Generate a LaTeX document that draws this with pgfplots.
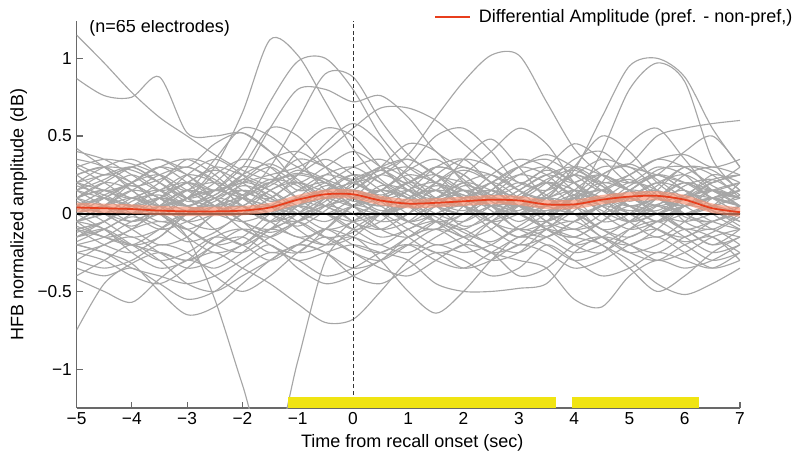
\documentclass[border=0pt]{standalone}
\usepackage{fontspec}
\setmainfont{Liberation Sans}
\usepackage{pgfplots}
\usepackage{pgfplotstable}
\pgfplotsset{compat=1.18}
\definecolor{grayline}{RGB}{166,166,166}
\definecolor{redline}{RGB}{232,62,28}
\definecolor{band}{RGB}{244,145,115}
\definecolor{ybar}{RGB}{240,228,18}
\definecolor{axgray}{RGB}{105,105,105}

\pgfplotstableread{
id c1 c2 c3 c4 c5 c6 c7 c8 c9 c10 c11 c12 c13 c14 c15 c16 c17 c18 c19 c20 c21 c22 c23 c24 c25
x -5 -4.5 -4 -3.5 -3 -2.5 -2 -1.5 -1 -0.5 0 0.5 1 1.5 2 2.5 3 3.5 4 4.5 5 5.5 6 6.5 7
g1 1.15 0.97 0.78 0.62 0.50 0.38 0.28 0.22 0.26 0.22 0.15 0.10 0.06 0.10 0.15 0.10 0.05 0.02 0.10 0.15 0.10 0.05 0.10 0.15 0.10
g2 0.87 0.76 0.75 0.88 0.52 0.50 0.52 0.40 0.30 0.20 0.10 0.05 0.10 0.18 0.12 0.05 0.00 0.05 0.12 0.08 0.02 0.06 0.12 0.10 0.05
g3 0.05 0.10 0.05 0.00 0.10 0.30 0.65 1.12 1.02 0.72 0.42 0.22 0.12 0.05 0.10 0.15 0.10 0.05 0.00 0.05 0.10 0.05 0.00 0.05 0.10
g4 0.10 0.05 0.00 0.05 0.10 0.20 0.38 0.72 0.98 1.00 0.80 0.50 0.30 0.20 0.15 0.05 0.00 0.05 0.10 0.05 -0.05 0.00 0.05 0.10 0.05
g5 -0.05 0.00 0.10 0.15 0.05 0.00 0.10 0.30 0.60 0.90 0.88 0.60 0.38 0.25 0.20 0.10 0.05 0.10 0.15 0.10 0.05 0.10 0.15 0.05 0.00
g6 0.15 0.10 0.05 0.10 0.20 0.15 0.25 0.55 0.80 0.80 0.72 0.76 0.62 0.40 0.30 0.25 0.15 0.10 0.20 0.25 0.15 0.10 0.05 0.10 0.15
g7 0.00 0.05 0.10 0.05 0.00 0.05 0.10 0.05 0.10 0.15 0.20 0.25 0.38 0.62 0.85 1.02 1.02 0.72 0.42 0.25 0.15 0.10 0.05 0.10 0.05
g8 0.10 0.15 0.10 0.05 0.10 0.15 0.10 0.00 0.05 0.10 0.05 0.10 0.15 0.10 0.05 0.00 0.05 0.12 0.28 0.62 0.95 1.00 0.88 0.55 0.30
g9 -0.05 0.00 0.05 0.10 0.05 0.00 -0.05 0.00 0.05 0.00 -0.05 0.00 0.05 0.10 0.15 0.10 0.05 0.05 0.10 0.40 0.80 0.97 0.85 0.35 0.15
g10 0.20 0.25 0.30 0.20 0.10 0.15 0.20 0.25 0.30 0.40 0.55 0.68 0.68 0.60 0.45 0.30 0.20 0.15 0.25 0.35 0.30 0.25 0.20 0.15 0.20
g11 0.05 0.00 -0.05 0.00 0.10 0.15 0.10 0.05 0.00 0.05 0.10 0.15 0.10 0.05 0.00 0.05 0.15 0.25 0.20 0.30 0.32 0.50 0.55 0.58 0.60
g12 0.30 0.35 0.32 0.25 0.15 0.35 0.55 0.50 0.35 0.15 0.05 0.00 0.05 0.10 0.20 0.15 0.05 0.00 0.10 0.20 0.15 0.10 0.05 0.10 0.05
g13 0.10 0.20 0.30 0.35 0.30 0.45 0.52 0.40 0.20 0.10 0.15 0.30 0.45 0.40 0.20 0.05 0.00 0.10 0.25 0.15 0.05 0.10 0.20 0.15 0.10
g14 0.40 0.35 0.25 0.15 0.20 0.30 0.25 0.20 0.40 0.55 0.50 0.30 0.15 0.10 0.25 0.40 0.55 0.45 0.20 0.05 0.00 0.10 0.25 0.30 0.25
g15 0.20 0.15 0.10 0.20 0.35 0.30 0.15 0.10 0.25 0.45 0.58 0.45 0.20 0.15 0.35 0.48 0.30 0.10 0.05 0.20 0.45 0.55 0.35 0.15 0.10
g16 -0.05 0.05 0.20 0.30 0.25 0.10 0.05 0.20 0.35 0.30 0.20 0.15 0.30 0.50 0.55 0.40 0.20 0.30 0.45 0.35 0.20 0.25 0.40 0.50 0.30
g17 0.25 0.30 0.20 0.10 0.05 0.15 0.30 0.55 0.50 0.30 0.10 0.05 0.10 0.25 0.35 0.30 0.15 0.10 0.30 0.50 0.40 0.20 0.10 0.20 0.25
g18 0.10 0.15 0.05 -0.05 0.00 0.10 0.05 -0.05 0.00 0.10 0.15 0.05 -0.05 0.00 0.10 0.15 0.05 0.00 0.05 0.10 0.05 -0.05 0.00 0.05 0.00
g19 -0.10 -0.05 0.05 0.15 0.20 0.10 0.00 0.05 0.15 0.20 0.10 0.00 0.05 0.15 0.10 -0.05 -0.10 0.00 0.10 0.05 -0.05 0.00 0.10 0.15 0.05
g20 0.20 0.10 0.00 -0.10 -0.05 0.05 0.15 0.10 0.00 -0.10 -0.05 0.10 0.20 0.15 0.05 0.00 0.10 0.20 0.15 0.00 -0.10 -0.05 0.05 0.10 0.15
g21 0.00 0.10 0.20 0.25 0.15 0.05 0.00 0.10 0.20 0.15 0.25 0.20 0.05 -0.05 0.00 0.15 0.25 0.20 0.05 0.00 0.10 0.20 0.25 0.15 0.05
g22 -0.20 -0.15 -0.05 0.00 -0.10 -0.20 -0.15 0.00 0.10 0.05 -0.05 -0.15 -0.10 0.00 0.05 -0.05 -0.15 -0.10 0.05 0.10 0.00 -0.10 -0.15 -0.05 0.00
g23 0.15 0.25 0.20 0.05 -0.05 0.00 0.10 0.20 0.25 0.20 0.10 0.15 0.25 0.20 0.10 0.20 0.30 0.25 0.10 0.05 0.15 0.25 0.15 0.05 -0.05
g24 0.05 -0.05 -0.15 -0.10 0.00 0.10 0.20 0.15 0.05 0.00 0.10 0.25 0.30 0.20 0.05 -0.05 0.00 0.10 0.05 -0.10 -0.05 0.10 0.20 0.10 0.00
g25 -0.15 -0.05 0.05 0.00 -0.15 -0.25 -0.20 -0.05 0.05 0.00 -0.10 -0.05 0.10 0.15 0.05 -0.10 -0.20 -0.15 -0.05 0.05 0.10 0.00 -0.10 -0.20 -0.10
g26 0.30 0.20 0.10 0.15 0.25 0.20 0.05 0.00 0.10 0.25 0.30 0.20 0.10 0.00 -0.05 0.05 0.15 0.25 0.30 0.20 0.05 0.00 0.10 0.20 0.25
g27 -0.05 0.05 0.15 0.10 -0.05 -0.10 0.00 0.15 0.20 0.10 -0.05 -0.10 0.00 0.10 0.20 0.25 0.15 0.00 -0.10 -0.05 0.10 0.20 0.15 0.00 -0.10
g28 0.10 0.00 -0.10 -0.20 -0.15 0.00 0.05 -0.05 -0.15 -0.10 0.05 0.15 0.10 -0.05 -0.15 -0.10 0.05 0.10 0.00 -0.15 -0.20 -0.10 0.05 0.10 0.05
g29 0.25 0.15 0.20 0.30 0.20 0.05 0.10 0.20 0.10 0.05 0.15 0.25 0.20 0.30 0.25 0.10 0.05 0.15 0.30 0.25 0.20 0.30 0.25 0.10 0.15
g30 -0.25 -0.20 -0.10 -0.05 -0.10 -0.20 -0.25 -0.15 -0.05 0.00 -0.10 -0.20 -0.25 -0.15 -0.05 0.05 0.00 -0.10 -0.20 -0.15 -0.05 0.05 0.00 -0.10 -0.15
g31 0.05 0.15 0.25 0.15 0.05 0.15 0.30 0.25 0.10 0.00 0.05 0.10 -0.05 -0.10 0.05 0.20 0.10 -0.05 -0.10 0.00 0.15 0.10 0.00 0.05 0.20
g32 0.35 0.30 0.15 0.05 0.10 0.25 0.35 0.30 0.15 0.20 0.30 0.35 0.25 0.10 0.05 0.15 0.30 0.35 0.25 0.15 0.25 0.35 0.30 0.20 0.30
g33 -0.10 -0.20 -0.25 -0.15 0.00 0.05 -0.05 -0.20 -0.25 -0.10 0.05 0.00 -0.15 -0.25 -0.20 -0.05 0.05 -0.05 -0.20 -0.25 -0.10 0.00 -0.10 -0.20 -0.15
g34 0.00 0.05 0.00 0.10 0.25 0.35 0.25 0.10 0.05 0.15 0.05 -0.05 0.00 0.20 0.30 0.20 0.00 -0.05 0.05 0.25 0.30 0.15 -0.05 -0.10 0.00
g35 0.15 0.05 -0.05 0.05 0.15 0.10 -0.05 -0.10 0.00 0.15 0.25 0.15 0.00 0.05 0.15 0.05 -0.10 -0.05 0.15 0.25 0.15 0.00 0.10 0.25 0.20
g36 -0.10 -0.05 0.05 0.00 -0.15 -0.55 -1.10 -1.62 -0.95 -0.30 -0.10 0.00 0.05 -0.05 -0.10 0.00 0.05 0.00 -0.05 0.05 0.10 0.00 -0.05 0.00 0.05
g37 -0.75 -0.45 -0.32 -0.25 -0.30 -0.20 -0.10 -0.15 -0.25 -0.20 -0.05 0.00 -0.10 -0.20 -0.15 -0.05 0.00 -0.10 -0.15 -0.05 0.05 0.00 -0.10 -0.05 0.00
g38 -0.42 -0.50 -0.57 -0.42 -0.30 -0.35 -0.25 -0.10 -0.05 -0.15 -0.25 -0.30 -0.20 -0.10 -0.15 -0.25 -0.20 -0.05 0.00 -0.10 -0.20 -0.25 -0.15 -0.10 -0.20
g39 -0.20 -0.25 -0.32 -0.50 -0.65 -0.60 -0.45 -0.30 -0.20 -0.25 -0.35 -0.30 -0.15 -0.10 -0.20 -0.30 -0.25 -0.10 -0.05 -0.15 -0.25 -0.20 -0.10 -0.15 -0.25
g40 -0.10 -0.15 -0.20 -0.25 -0.30 -0.25 -0.35 -0.45 -0.58 -0.70 -0.68 -0.50 -0.30 -0.20 -0.25 -0.20 -0.10 -0.15 -0.25 -0.20 -0.10 -0.05 -0.15 -0.25 -0.20
g41 -0.30 -0.20 -0.15 -0.25 -0.35 -0.30 -0.20 -0.10 -0.15 -0.20 -0.15 -0.30 -0.50 -0.64 -0.50 -0.30 -0.15 -0.20 -0.30 -0.25 -0.15 -0.10 -0.20 -0.30 -0.25
g42 -0.05 -0.10 -0.25 -0.35 -0.30 -0.15 -0.10 -0.20 -0.30 -0.25 -0.20 -0.25 -0.30 -0.45 -0.50 -0.50 -0.48 -0.45 -0.25 -0.15 -0.20 -0.30 -0.25 -0.15 -0.10
g43 -0.25 -0.30 -0.40 -0.45 -0.35 -0.20 -0.15 -0.25 -0.20 -0.10 -0.15 -0.20 -0.10 -0.05 -0.15 -0.25 -0.30 -0.35 -0.55 -0.60 -0.40 -0.30 -0.35 -0.30 -0.20
g44 -0.15 -0.10 -0.20 -0.30 -0.25 -0.15 -0.20 -0.30 -0.20 -0.10 -0.20 -0.25 -0.15 -0.05 -0.10 -0.20 -0.25 -0.15 -0.10 -0.20 -0.30 -0.45 -0.52 -0.45 -0.35
g45 -0.35 -0.40 -0.35 -0.45 -0.55 -0.50 -0.35 -0.25 -0.30 -0.40 -0.35 -0.25 -0.20 -0.30 -0.35 -0.25 -0.15 -0.10 -0.15 -0.20 -0.35 -0.50 -0.40 -0.25 -0.15
g46 -0.30 -0.35 -0.30 -0.20 -0.25 -0.40 -0.50 -0.40 -0.25 -0.15 -0.25 -0.35 -0.40 -0.30 -0.20 -0.25 -0.40 -0.35 -0.20 -0.15 -0.25 -0.30 -0.20 -0.15 -0.30
g47 -0.20 -0.25 -0.35 -0.40 -0.45 -0.40 -0.30 -0.20 -0.35 -0.45 -0.40 -0.30 -0.20 -0.25 -0.35 -0.30 -0.20 -0.25 -0.35 -0.30 -0.20 -0.15 -0.25 -0.35 -0.30
g48 -0.40 -0.30 -0.20 -0.30 -0.45 -0.50 -0.40 -0.30 -0.20 -0.25 -0.40 -0.45 -0.35 -0.25 -0.30 -0.40 -0.35 -0.20 -0.30 -0.40 -0.35 -0.25 -0.30 -0.35 -0.25
g49 0.05 0.10 0.20 0.30 0.35 0.25 0.10 0.00 -0.05 0.05 0.20 0.30 0.35 0.25 0.10 0.05 0.10 0.20 0.10 -0.05 0.00 0.15 0.30 0.25 0.10
g50 -0.05 -0.15 -0.10 0.05 0.15 0.05 -0.10 -0.15 -0.05 0.10 0.20 0.10 -0.05 -0.10 0.00 0.10 0.05 -0.10 -0.15 -0.05 0.10 0.15 0.05 -0.05 -0.10
g51 0.20 0.30 0.35 0.25 0.10 0.00 0.05 0.15 0.25 0.35 0.25 0.10 0.15 0.30 0.35 0.20 0.10 0.20 0.35 0.40 0.25 0.10 0.05 0.15 0.20
g52 -0.15 -0.10 0.00 0.10 0.05 -0.10 -0.20 -0.10 0.05 0.15 0.05 -0.10 -0.15 -0.05 0.10 0.05 -0.05 0.05 0.15 0.10 -0.05 -0.15 -0.05 0.10 0.15
g53 0.10 0.20 0.15 0.00 -0.10 0.00 0.20 0.30 0.20 0.30 0.40 0.30 0.15 0.05 0.10 0.25 0.35 0.30 0.15 0.10 0.20 0.15 0.00 -0.05 0.05
g54 0.00 -0.10 -0.20 -0.15 0.00 0.10 0.15 0.05 -0.10 -0.20 -0.15 0.00 0.15 0.20 0.10 -0.05 -0.15 -0.05 0.10 0.15 0.05 -0.05 0.05 0.15 0.10
g55 0.25 0.30 0.28 0.20 0.10 0.05 0.12 0.22 0.18 0.05 0.00 0.08 0.20 0.25 0.15 0.05 0.10 0.22 0.28 0.18 0.05 0.02 0.12 0.22 0.25
g56 0.42 0.30 0.18 0.22 0.30 0.20 0.05 -0.05 0.05 0.18 0.12 0.02 0.08 0.20 0.28 0.20 0.05 0.00 0.12 0.25 0.32 0.22 0.10 0.05 0.12
g57 -0.05 0.05 0.15 0.25 0.30 0.22 0.12 0.18 0.28 0.22 0.08 0.15 0.28 0.35 0.22 0.08 0.02 0.15 0.25 0.18 0.08 0.18 0.30 0.28 0.15
g58 0.15 0.22 0.30 0.20 0.08 0.12 0.25 0.32 0.22 0.10 0.18 0.30 0.22 0.08 0.02 0.12 0.25 0.30 0.20 0.08 0.15 0.25 0.20 0.10 0.05
g59 -0.12 -0.05 0.08 0.12 0.05 0.12 0.22 0.15 0.02 -0.05 0.05 0.18 0.15 0.05 -0.08 -0.02 0.12 0.20 0.12 0.02 -0.05 0.05 0.18 0.22 0.12
g60 0.08 0.00 -0.08 0.02 0.15 0.20 0.12 0.00 -0.08 0.02 0.15 0.08 -0.05 0.05 0.18 0.12 0.00 -0.08 0.02 0.15 0.22 0.12 -0.02 -0.05 0.05
g61 0.32 0.25 0.30 0.35 0.25 0.15 0.22 0.35 0.40 0.30 0.22 0.28 0.35 0.25 0.15 0.20 0.30 0.38 0.30 0.20 0.25 0.35 0.38 0.30 0.35
g62 -0.08 -0.15 -0.20 -0.10 0.02 0.05 -0.05 -0.12 -0.05 0.05 0.00 -0.10 -0.05 0.08 0.12 0.02 -0.10 -0.15 -0.05 0.05 0.00 -0.10 -0.18 -0.12 -0.02
g63 0.18 0.12 0.05 0.10 0.20 0.28 0.20 0.08 0.15 0.25 0.20 0.12 0.20 0.30 0.25 0.12 0.18 0.28 0.20 0.10 0.15 0.28 0.30 0.18 0.10
g64 0.02 0.12 0.18 0.10 0.02 0.08 0.18 0.12 0.00 0.08 0.22 0.28 0.18 0.05 0.00 0.10 0.20 0.12 0.00 0.05 0.18 0.25 0.15 0.02 -0.05
g65 -0.18 -0.10 -0.02 -0.08 -0.18 -0.12 0.00 0.05 -0.05 -0.15 -0.12 0.00 0.05 -0.02 -0.12 -0.18 -0.08 0.02 0.00 -0.10 -0.15 -0.05 0.05 0.02 -0.08
}\rawlines
\pgfplotstabletranspose[colnames from=id]\electrodes\rawlines

\pgfplotstableread{
x y
-5 0.040
-4.5 0.035
-4 0.030
-3.5 0.020
-3 0.015
-2.5 0.015
-2 0.020
-1.5 0.040
-1 0.090
-0.5 0.125
0 0.125
0.5 0.085
1 0.065
1.5 0.070
2 0.080
2.5 0.090
3 0.085
3.5 0.060
4 0.060
4.5 0.090
5 0.110
5.5 0.115
6 0.090
6.5 0.035
7 0.010
}\meanline

\begin{document}
\begin{tikzpicture}
\pgfplotsset{set layers}
\begin{axis}[
  scale only axis,
  width=497.6pt, height=290.25pt,
  xmin=-5, xmax=7, ymin=-1.25, ymax=1.24,
  axis lines*=left,
  axis line style={axgray, line width=0.8pt},
  tick align=inside,
  major tick length=4.5pt,
  tick style={axgray, line width=0.8pt},
  xtick={-5,-4,-3,-2,-1,0,1,2,3,4,5,6,7},
  xticklabels={−5,−4,−3,−2,−1,0,1,2,3,4,5,6,7},
  ytick={-1,-0.5,0,0.5,1},
  yticklabels={−1,−0.5,0,0.5,1},
  ticklabel style={font=\fontsize{13}{15}\selectfont, black},
  xlabel={Time from recall onset (sec)},
  ylabel={HFB normalized amplitude (dB)},
  label style={font=\fontsize{13.5}{16}\selectfont},
  xlabel style={at={(axis description cs:0.506,-0.09)}, anchor=center},
  ylabel style={at={(axis description cs:-0.087,0.5)}, anchor=center},
  legend style={draw=none, fill=none, at={(1.0835,1.01)}, anchor=east,
    font=\fontsize{13.5}{16}\selectfont, inner sep=0pt},
  legend image code/.code={\draw[#1, line width=1.8pt] (0pt,0pt) -- (26pt,0pt); \path (30pt,0pt);},
]
\pgfplotsinvokeforeach{1,...,65}{
  \addplot[grayline, line width=0.85pt, smooth, forget plot] table[x=x, y=g#1]{\electrodes};
}
\addplot[black, line width=1.3pt, forget plot] coordinates {(-5,0) (7,0)};
\addplot[black!80, dashed, dash pattern=on 3pt off 2pt, line width=0.6pt, forget plot] coordinates {(0,-1.25) (0,1.24)};
\addplot[band, line width=7pt, opacity=0.65, smooth, forget plot] table[x=x, y=y]{\meanline};
\addplot[redline, line width=1.3pt, smooth] table[x=x, y=y]{\meanline};
\addlegendentry{Differential Amplitude (pref. - non-pref,)}
\addplot[draw=none, fill=ybar, on layer=axis foreground, forget plot] coordinates {(-1.18,-1.25) (3.68,-1.25) (3.68,-1.18) (-1.18,-1.18)} -- cycle;
\addplot[draw=none, fill=ybar, on layer=axis foreground, forget plot] coordinates {(3.97,-1.25) (6.26,-1.25) (6.26,-1.18) (3.97,-1.18)} -- cycle;
\node[anchor=west, inner sep=0pt, font=\fontsize{13.5}{16}\selectfont] at (rel axis cs:0.019,0.982) {(n=65 electrodes)};
\end{axis}
\path[use as bounding box] ([shift={(-57.4pt,-38.25pt)}]current axis.south west) rectangle ([shift={(42pt,15.75pt)}]current axis.north east);
\end{tikzpicture}
\end{document}
